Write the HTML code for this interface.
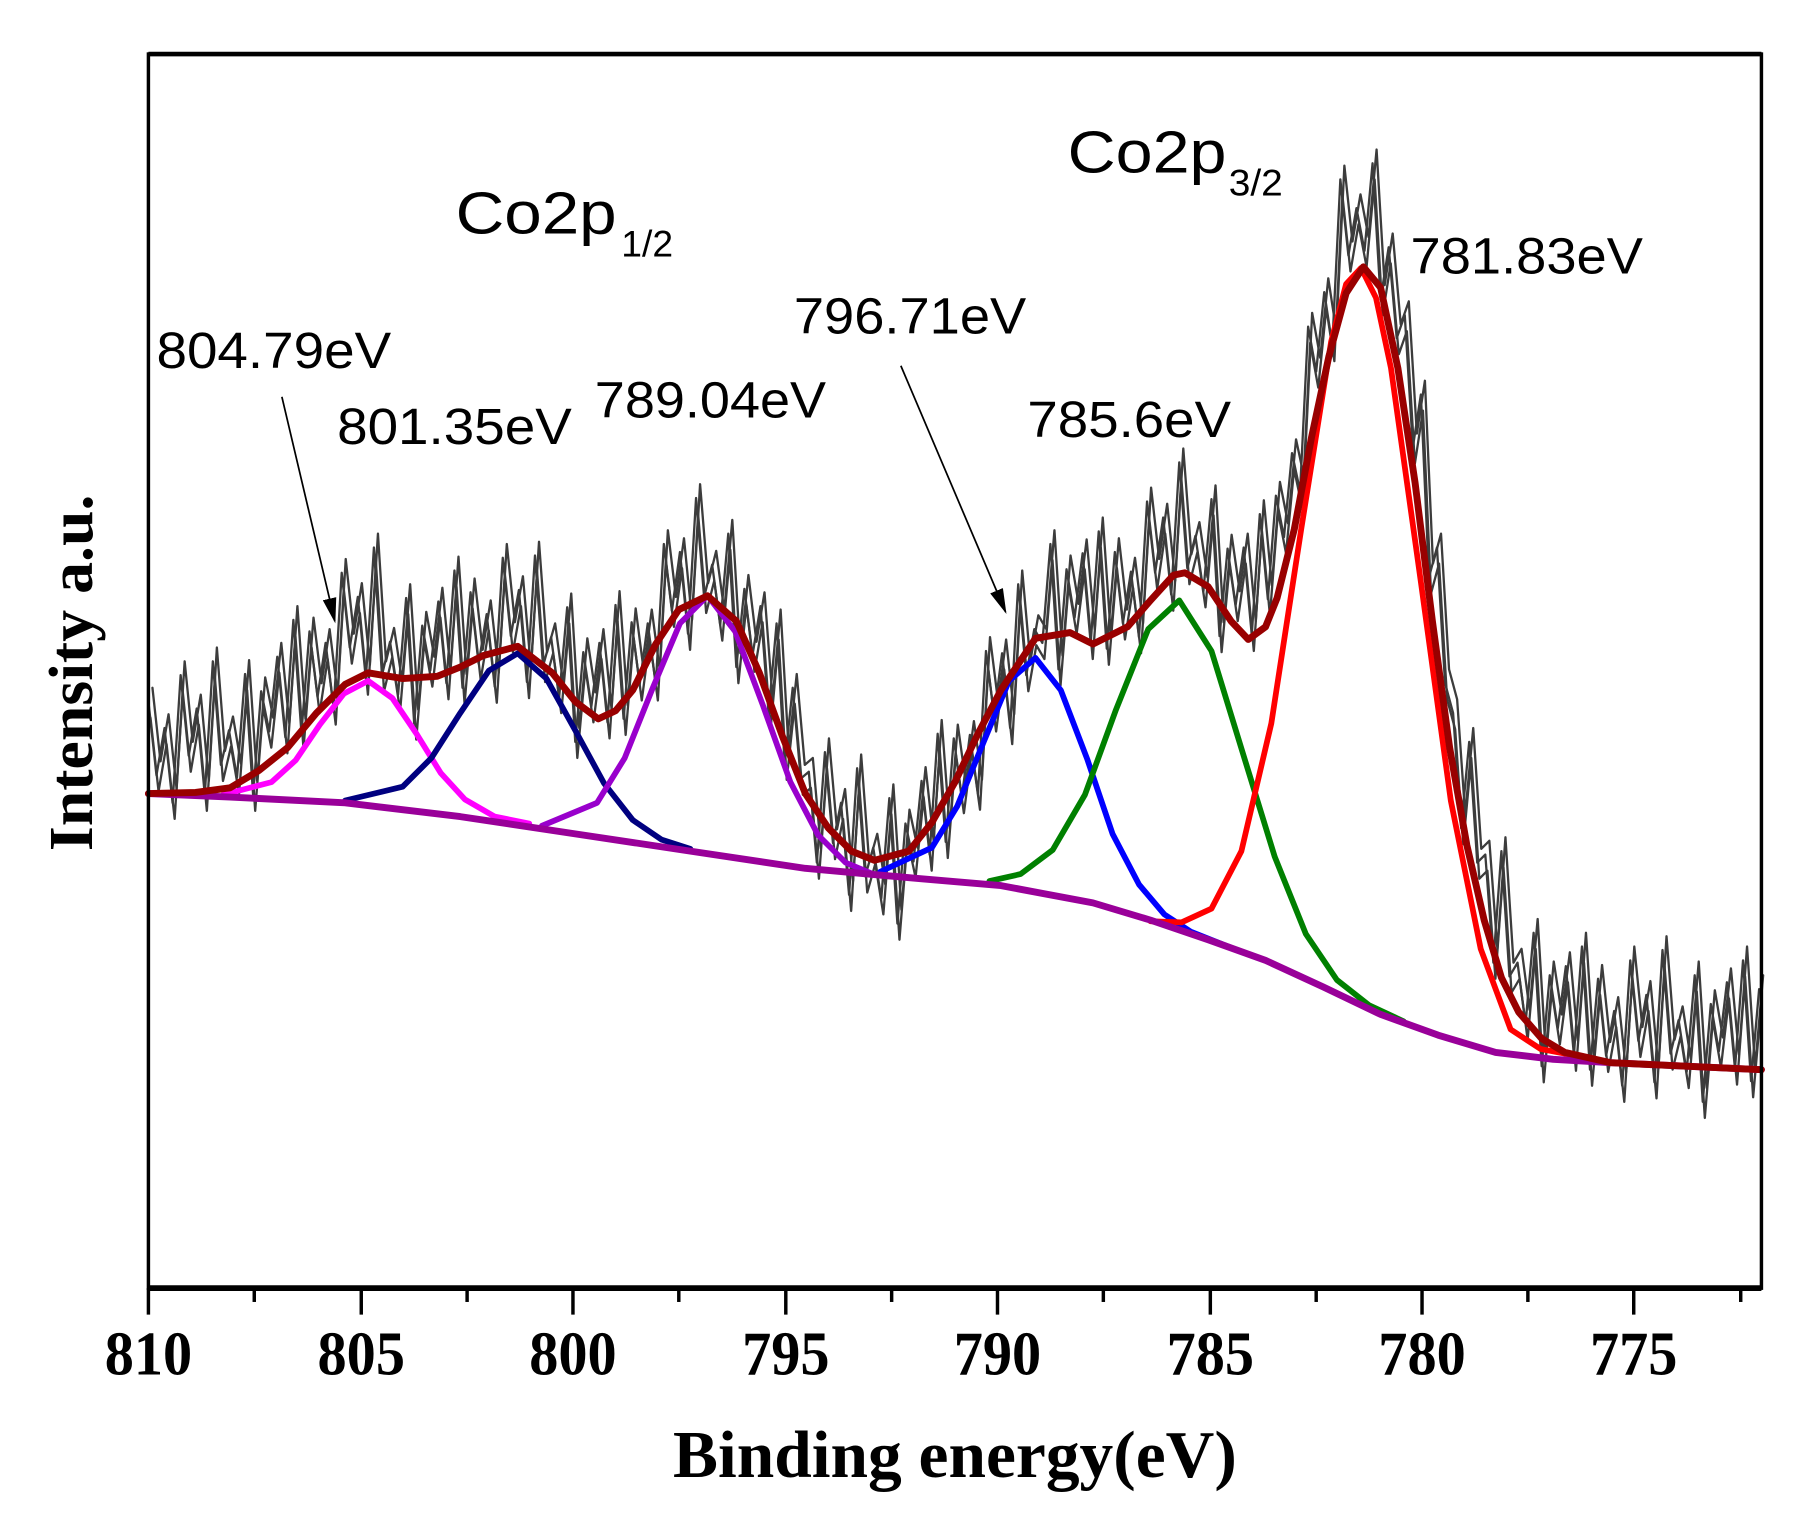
<!DOCTYPE html>
<html><head><meta charset="utf-8"><style>
html,body{margin:0;padding:0;background:#fff;}
svg{display:block;}
</style></head><body>
<svg width="1804" height="1532" viewBox="0 0 1568 1332" preserveAspectRatio="none" xmlns="http://www.w3.org/2000/svg">
<defs><marker id="ah" markerWidth="22" markerHeight="14" refX="20" refY="7" orient="auto" markerUnits="userSpaceOnUse"><path d="M0,1 L22,7 L0,13 z" fill="#000"/></marker></defs>
<rect width="1568" height="1332" fill="#fff"/>
<g fill="none" stroke-linejoin="round" stroke-linecap="round">
<polyline id="d" stroke="#3c3c3c" stroke-width="2" points="129,610 136,674 143,633 150,698 157,587 164,657 171,616 178,691 185,575 192,665 199,635 206,676 213,586 220,691 227,601 234,636 241,571 248,641 255,539 262,637 269,549 276,606 283,559 290,616 297,498 304,563 311,519 318,590 325,476 332,587 339,558 346,604 353,520 360,629 367,544 374,583 381,523 388,594 395,496 402,598 409,515 416,577 423,534 430,597 437,485 444,553 451,513 458,593 465,483 472,579 479,554 486,606 493,528 500,645 507,567 514,614 521,559 528,628 535,526 542,625 549,541 556,595 563,542 570,595 577,473 584,531 591,480 598,551 605,433 612,519 619,491 626,543 633,464 640,580 647,512 654,570 661,527 668,620 675,542 682,664 689,598 696,677 703,671 710,750 717,654 724,733 731,698 738,778 745,668 752,762 759,737 766,781 773,694 780,803 787,716 794,749 801,679 808,743 815,638 822,732 829,642 836,693 843,639 850,690 857,566 864,622 871,568 878,633 885,508 892,587 899,547 906,559 913,473 920,582 927,495 934,537 941,481 948,559 955,462 962,564 969,480 976,542 983,497 990,554 997,436 1004,498 1011,450 1018,517 1025,402 1032,494 1039,466 1046,514 1053,434 1060,553 1067,477 1074,526 1081,476 1088,552 1095,447 1102,521 1109,431 1116,467 1123,394 1130,427 1137,284 1144,323 1151,254 1158,300 1165,156 1172,222 1179,181 1186,218 1193,142 1200,260 1207,215 1214,294 1221,274 1228,389 1235,343 1242,502 1249,476 1256,594 1263,620 1270,720 1277,645 1284,750 1291,743 1298,837 1305,740 1312,849 1319,837 1326,890 1333,811 1340,927 1347,848 1354,894 1361,840 1368,917 1375,823 1382,930 1389,851 1396,918 1403,879 1410,944 1417,835 1424,905 1431,865 1438,941 1445,826 1452,916 1459,887 1466,932 1473,848 1480,958 1487,873 1494,914 1501,854 1508,929 1515,835 1522,940 1529,860"/>
<use href="#d" transform="translate(3.5,-12)"/>
<use href="#d" transform="translate(1.8,14)"/>
<polyline stroke="#ff00ff" stroke-width="5" points="194,691 236,680 257,661 278,630 299,603 320,592 341,607 362,638 383,672 404,695 430,710 460,716"/>
<polyline stroke="#000080" stroke-width="5" points="300,696 350,684 375,659 400,620 425,583 450,568 475,590 500,635 525,681 550,713 575,730 600,738"/>
<polyline stroke="#9900cc" stroke-width="5" points="471,718 519,698 543,659 567,599 591,542 615,518 639,549 663,613 687,680 711,726 735,750 759,760"/>
<polyline stroke="#0000ff" stroke-width="5" points="765,758 810,737 832,701 855,645 877,592 900,572 922,600 945,660 967,725 990,769 1012,795 1035,810 1070,824"/>
<polyline stroke="#008000" stroke-width="5" points="860,766 887,760 915,739 943,691 970,617 998,547 1025,522 1053,566 1080,654 1108,745 1135,812 1162,852 1190,874 1220,888"/>
<polyline stroke="#ff0000" stroke-width="5" points="1000,801 1027,802 1053,790 1079,740 1105,629 1131,460 1157,297 1170,247 1183,233 1196,259 1209,320 1235,506 1261,696 1287,825 1313,895 1339,912 1370,918"/>
<polyline stroke="#990099" stroke-width="6" points="129,690 200,693 300,698 400,710 500,725 600,740 700,755 800,764 870,770 950,785 1000,800 1050,817 1100,835 1150,858 1200,882 1250,900 1300,915 1350,921 1400,924 1531,930"/>
<polyline stroke="#990000" stroke-width="6" points="129,690 170,689 200,685 225,670 250,650 275,620 300,595 320,585 350,590 380,588 400,580 420,570 450,562 480,585 500,610 520,625 535,618 550,600 570,560 590,530 615,518 640,540 660,585 680,640 700,690 720,720 740,740 760,748 790,740 810,715 830,680 850,638 870,600 900,555 930,550 950,560 980,545 1000,522 1020,500 1030,498 1050,510 1070,540 1085,556 1100,545 1110,520 1125,460 1140,380 1155,310 1170,255 1185,232 1200,250 1215,320 1230,420 1245,540 1260,650 1275,735 1290,800 1305,850 1320,880 1340,903 1360,915 1400,924 1531,930"/>
</g>
<rect x="129" y="47" width="1402" height="1073" fill="none" stroke="#000" stroke-width="3"/>
<line x1="129" y1="1120" x2="1531" y2="1120" stroke="#000" stroke-width="5"/>
<line x1="129" y1="47" x2="1531" y2="47" stroke="#000" stroke-width="4"/>
<g stroke="#000" stroke-width="3">
<line x1="129" y1="1120" x2="129" y2="1143"/><line x1="221" y1="1120" x2="221" y2="1132"/>
<line x1="314" y1="1120" x2="314" y2="1143"/><line x1="406" y1="1120" x2="406" y2="1132"/>
<line x1="498" y1="1120" x2="498" y2="1143"/><line x1="590" y1="1120" x2="590" y2="1132"/>
<line x1="683" y1="1120" x2="683" y2="1143"/><line x1="775" y1="1120" x2="775" y2="1132"/>
<line x1="867" y1="1120" x2="867" y2="1143"/><line x1="959" y1="1120" x2="959" y2="1132"/>
<line x1="1052" y1="1120" x2="1052" y2="1143"/><line x1="1144" y1="1120" x2="1144" y2="1132"/>
<line x1="1236" y1="1120" x2="1236" y2="1143"/><line x1="1328" y1="1120" x2="1328" y2="1132"/>
<line x1="1420" y1="1120" x2="1420" y2="1143"/><line x1="1513" y1="1120" x2="1513" y2="1132"/>
</g>
<g font-family="Liberation Serif, serif" font-weight="bold" font-size="54" fill="#000">
<text x="91" y="1195" textLength="76" lengthAdjust="spacingAndGlyphs">810</text>
<text x="276" y="1195" textLength="76" lengthAdjust="spacingAndGlyphs">805</text>
<text x="460" y="1195" textLength="76" lengthAdjust="spacingAndGlyphs">800</text>
<text x="645" y="1195" textLength="76" lengthAdjust="spacingAndGlyphs">795</text>
<text x="829" y="1195" textLength="76" lengthAdjust="spacingAndGlyphs">790</text>
<text x="1014" y="1195" textLength="76" lengthAdjust="spacingAndGlyphs">785</text>
<text x="1198" y="1195" textLength="76" lengthAdjust="spacingAndGlyphs">780</text>
<text x="1382" y="1195" textLength="76" lengthAdjust="spacingAndGlyphs">775</text>
<text x="585" y="1284" font-size="58" textLength="490" lengthAdjust="spacingAndGlyphs">Binding energy(eV)</text>
<text transform="translate(80,740) rotate(-90)" font-size="54" textLength="310" lengthAdjust="spacingAndGlyphs">Intensity a.u.</text>
</g>
<g font-family="Liberation Sans, sans-serif" font-size="44" fill="#000">
<text x="136" y="320" textLength="204" lengthAdjust="spacingAndGlyphs">804.79eV</text>
<text x="293" y="386" textLength="204" lengthAdjust="spacingAndGlyphs">801.35eV</text>
<text x="517" y="363" textLength="201" lengthAdjust="spacingAndGlyphs">789.04eV</text>
<text x="690" y="290" textLength="202" lengthAdjust="spacingAndGlyphs">796.71eV</text>
<text x="893" y="380" textLength="177" lengthAdjust="spacingAndGlyphs">785.6eV</text>
<text x="1226" y="238" textLength="202" lengthAdjust="spacingAndGlyphs">781.83eV</text>
<text x="396" y="203" font-size="52" textLength="140" lengthAdjust="spacingAndGlyphs">Co2p</text>
<text x="540" y="223" font-size="32" textLength="45" lengthAdjust="spacingAndGlyphs">1/2</text>
<text x="928" y="150" font-size="52" textLength="138" lengthAdjust="spacingAndGlyphs">Co2p</text>
<text x="1068" y="170" font-size="32" textLength="47" lengthAdjust="spacingAndGlyphs">3/2</text>
</g>
<line x1="245" y1="345" x2="291" y2="540" stroke="#000" stroke-width="1.5" marker-end="url(#ah)"/>
<line x1="783" y1="318" x2="874" y2="532" stroke="#000" stroke-width="1.5" marker-end="url(#ah)"/>
</svg>
</body></html>
